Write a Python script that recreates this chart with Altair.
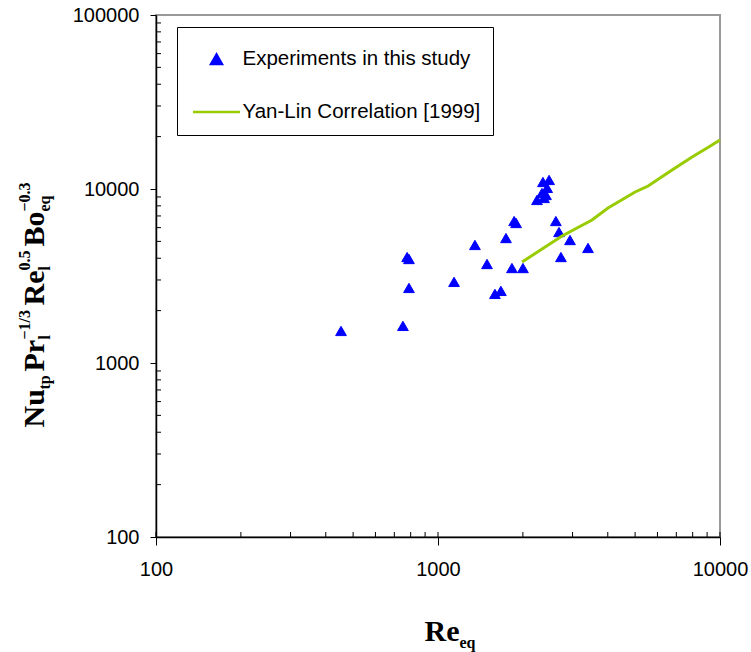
import altair as alt
import pandas as pd

# Measured points: equivalent Reynolds number vs. normalised Nusselt group
re_exp = [453, 751, 777, 789, 789, 1140, 1352, 1492, 1592, 1671, 1742, 1829, 2001,
          1862, 1892, 2356, 2477, 2438, 2337, 2244, 2377, 2415, 2618, 2686, 2938, 2729, 3404]
nu_exp = [1528, 1634, 4064, 3960, 2700, 2925, 4768, 3706, 2495, 2596, 5226, 3514, 3514,
          6546, 6378, 10970, 11270, 10150, 9480, 8650, 8880, 9240, 6546, 5659, 5090, 4064, 4583]

# Yan-Lin correlation curve
re_yl = [1987, 2753, 3516, 4008, 5000, 5560, 6761, 7962, 9000, 10000]
nu_yl = [3807, 5370, 6637, 7780, 9610, 10400, 12850, 15270, 17200, 19130]

series_names = ["Experiments in this study", "Yan-Lin Correlation [1999]"]

x_major = [100, 1000, 10000]
y_major = [100, 1000, 10000, 100000]
x_minor = [200, 300, 400, 500, 600, 700, 800, 900,
           2000, 3000, 4000, 5000, 6000, 7000, 8000, 9000]
y_minor = [200, 300, 400, 500, 600, 700, 800, 900,
           2000, 3000, 4000, 5000, 6000, 7000, 8000, 9000,
           20000, 30000, 40000, 50000, 60000, 70000, 80000, 90000]

exp_df = pd.DataFrame({"Re": re_exp, "Nu": nu_exp, "series": series_names[0]})
yl_df = pd.DataFrame({"Re": re_yl, "Nu": nu_yl, "series": series_names[1]})
xtick_df = pd.DataFrame({"v": sorted(x_minor + x_major)})
ytick_df = pd.DataFrame({"v": y_minor})

W, H = 564, 522
INNER = 5  # length of the inward tick marks
SANS = "Liberation Sans"
SERIF = "Liberation Serif"
BLUE = "#0000ff"
GREEN = "#99cc00"

xscale = alt.Scale(type="log", domain=[100, 10000], nice=False)
yscale = alt.Scale(type="log", domain=[100, 100000], nice=False)

legend = alt.Legend(
    orient="none", legendX=21, legendY=12, direction="vertical",
    title=" ", titleFontSize=2, titlePadding=8,
    strokeColor="black", fillColor="white", padding=12, cornerRadius=0,
    labelFont=SANS, labelFontSize=20.5, labelColor="black", labelLimit=400,
    labelOffset=1, symbolOffset=2.5, rowPadding=17, symbolStrokeWidth=2.5,
    symbolOpacity=1,
)

fill_scale = alt.Scale(domain=series_names, range=[BLUE, GREEN])
stroke_scale = alt.Scale(domain=series_names, range=[BLUE, GREEN])
shape_scale = alt.Scale(domain=series_names, range=["triangle-up", "stroke"])
size_scale = alt.Scale(type="point", domain=series_names, range=[115, 2209], padding=0)

x_axis = alt.Axis(
    orient="bottom", values=x_major, format="d", tickSize=8, tickColor="black",
    domainColor="black", domainWidth=1.5, grid=False, labelFlush=False,
    labelFont=SANS, labelFontSize=20, labelColor="black", labelPadding=14,
    title="Re", titleFont=SERIF, titleFontWeight="bold", titleFontSize=30,
    titleColor="black", titleX=268, titleY=103, titleAlign="left",
    titleBaseline="alphabetic", titleAngle=0, zindex=2,
)
y_axis = alt.Axis(
    orient="left", values=y_major, format="d", tickSize=6, tickColor="black",
    domainColor="black", domainWidth=1.5, grid=False,
    labelFont=SANS, labelFontSize=20, labelColor="black", labelPadding=11,
    title=None, zindex=2,
)

points = alt.Chart(exp_df).mark_point(filled=True, opacity=1, strokeWidth=1).encode(
    x=alt.X("Re:Q", scale=xscale, axis=x_axis),
    y=alt.Y("Nu:Q", scale=yscale, axis=y_axis),
    shape=alt.Shape("series:N", scale=shape_scale, legend=legend),
    fill=alt.Fill("series:N", scale=fill_scale, legend=legend),
    stroke=alt.Stroke("series:N", scale=stroke_scale, legend=legend),
    size=alt.Size("series:N", scale=size_scale, legend=legend),
)

line = alt.Chart(yl_df).mark_line(strokeWidth=3).encode(
    x=alt.X("Re:Q", scale=xscale, axis=None),
    y=alt.Y("Nu:Q", scale=yscale, axis=None),
    stroke=alt.Stroke("series:N", scale=stroke_scale, legend=legend),
)

# short inward tick marks on the bottom and left edges, placed by the scales
xticks_in = alt.Chart(xtick_df).mark_rule(color="black", strokeWidth=1).encode(
    x=alt.X("v:Q", scale=xscale, axis=None),
    y=alt.value(H), y2=alt.value(H - INNER),
)
yticks_in = alt.Chart(ytick_df).mark_rule(color="black", strokeWidth=1).encode(
    y=alt.Y("v:Q", scale=yscale, axis=None),
    x=alt.value(0), x2=alt.value(INNER),
)


def title_piece(text, size, tx, ty, channel):
    style = dict(labels=False, ticks=False, domain=False, grid=False,
                 title=text, titleFont=SERIF, titleFontWeight="bold",
                 titleFontSize=size, titleColor="black", titleX=tx, titleY=ty,
                 titleAlign="left", titleBaseline="alphabetic")
    if channel == "y":
        return alt.Chart(exp_df).mark_point(opacity=0).encode(
            x=alt.X("Re:Q", scale=xscale, axis=None),
            y=alt.Y("Nu:Q", scale=yscale,
                    axis=alt.Axis(orient="left", titleAngle=270, **style)),
        )
    return alt.Chart(exp_df).mark_point(opacity=0).encode(
        x=alt.X("Re:Q", scale=xscale,
                axis=alt.Axis(orient="bottom", titleAngle=0, **style)),
        y=alt.Y("Nu:Q", scale=yscale, axis=None),
    )


BIG, SMALL = 30, 16
BASE, SUB, SUP = -113, -107, -127
y_title = [
    ("Nu", BIG, BASE, 412),
    ("tp", SMALL, SUB, 374),
    ("Pr", BIG, BASE, 356),
    ("l", SMALL, SUB, 324),
    ("\u22121/3", SMALL, SUP, 324),
    ("Re", BIG, BASE, 290),
    ("l", SMALL, SUB, 255),
    ("0.5", SMALL, SUP, 255),
    ("Bo", BIG, BASE, 231),
    ("eq", SMALL, SUB, 196),
    ("\u22120.3", SMALL, SUP, 196),
]
title_layers = [title_piece(t, s, tx, ty, "y") for t, s, tx, ty in y_title]
title_layers.append(title_piece("eq", SMALL, 303, 110, "x"))

chart = alt.layer(xticks_in, yticks_in, points, line, *title_layers).resolve_axis(
    x="independent", y="independent"
).properties(
    width=W, height=H,
    autosize=alt.AutoSizeParams(type="none"),
    padding={"left": 156, "top": 15, "right": 31, "bottom": 115},
    background="white",
).configure_view(
    stroke="#999999", strokeWidth=2,
)

chart.save("out.html", embed_options={"renderer": "svg", "actions": False})
